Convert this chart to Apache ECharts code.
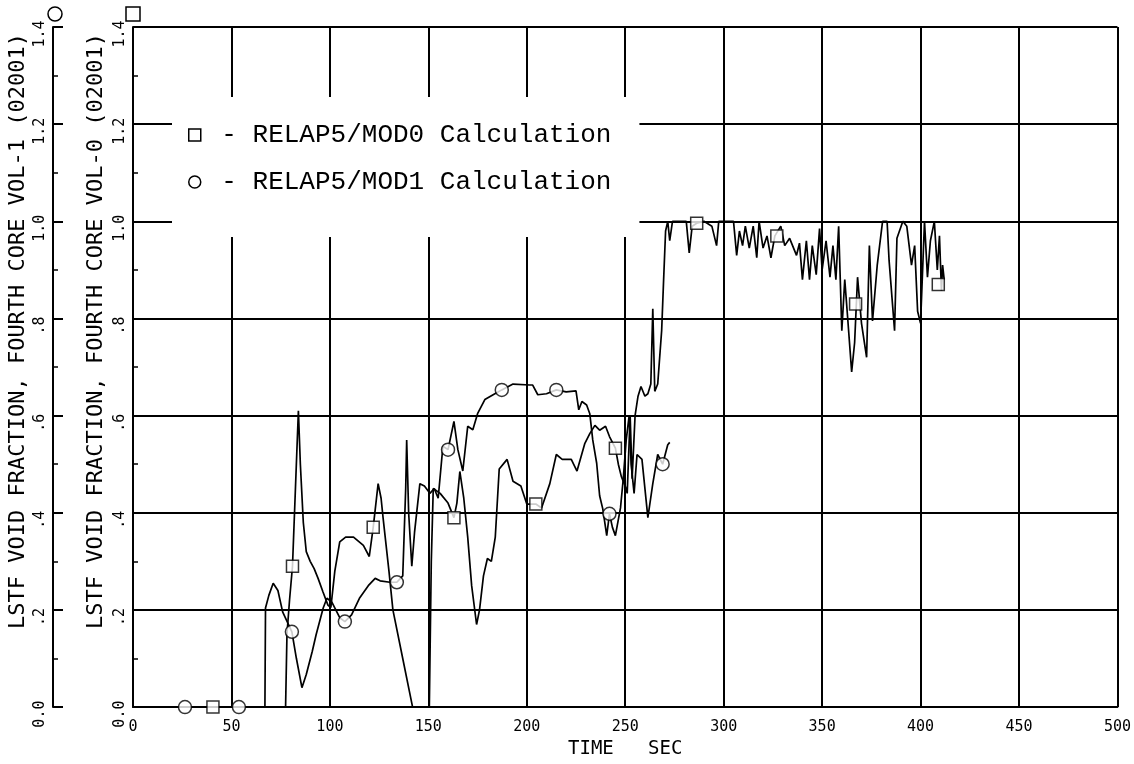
<!DOCTYPE html>
<html>
<head>
<meta charset="utf-8">
<script src="https://cdn.jsdelivr.net/npm/echarts@6/dist/echarts.min.js"></script>
<style>
html, body { margin: 0; padding: 0; background: #fff; }
#main { width: 1134px; height: 764px; }
</style>
</head>
<body>
<div id="main"></div>
<script>
// RELAP5/MOD0 (square, VOL-0)
var mod0Time = [0, 77.5, 78.2, 79.5, 81, 82.5, 84, 85, 86.5, 88, 90, 92, 94, 96.5, 99, 100.5,
  102.5, 105, 108, 112, 117, 120, 122, 124.5, 126, 127, 130, 132, 137, 142, 150.5, 151.5, 152.5,
  156, 160, 163, 164.5, 166, 168, 170, 172, 174.5, 176, 178, 180, 182, 184, 186, 190, 193, 197,
  200, 204.6, 207.5, 211.7, 215, 218, 222.6, 225.5, 229.5, 232, 234.6, 237, 240, 242, 245, 246.5,
  248, 250, 251, 252.5, 253.5, 255, 256.5, 258, 260, 261.5, 263, 264, 265, 266.5, 268.5, 269.5,
  270.5, 271.6, 272.6, 274, 281, 282.5, 284, 286.3, 290, 294, 296.4, 297.5, 305, 306.6, 308,
  309.6, 311, 313, 315, 316.8, 318, 320, 322, 324, 326, 329, 331, 333.5, 337, 338.5, 340, 342,
  343.6, 345, 347, 348.7, 350, 352, 354, 355.5, 357, 358.4, 360, 361.5, 363, 365, 366.5, 368,
  370, 372.6, 374, 375.6, 378, 380.7, 383, 384, 386.8, 388, 391, 393, 395.4, 397, 398.5, 400,
  402, 403.5, 405, 407, 408.5, 409.6, 410.6, 411.2, 412];
var mod0Void = [0, 0, 0.15, 0.22, 0.29, 0.45, 0.61, 0.5, 0.38, 0.32, 0.30, 0.285, 0.265, 0.237, 0.21, 0.205,
  0.28, 0.34, 0.35, 0.35, 0.333, 0.31, 0.37, 0.46, 0.43, 0.39, 0.28, 0.2, 0.1, 0, 0, 0.3, 0.45,
  0.44, 0.42, 0.39, 0.42, 0.485, 0.43, 0.35, 0.25, 0.17, 0.2, 0.27, 0.306, 0.30, 0.35, 0.49, 0.51, 0.465, 0.455,
  0.418, 0.418, 0.41, 0.46, 0.52, 0.51, 0.51, 0.486, 0.543, 0.563, 0.58, 0.57, 0.578, 0.557, 0.533, 0.50,
  0.475, 0.455, 0.44, 0.6, 0.47, 0.6, 0.64, 0.66, 0.64, 0.645, 0.665, 0.82, 0.65, 0.665, 0.775, 0.88,
  0.98, 1.0, 0.96, 1.0, 1.0, 0.935, 0.99, 0.996, 1.0, 0.99, 0.95, 1.0, 1.0, 0.93, 0.98,
  0.95, 0.99, 0.945, 0.99, 0.925, 1.0, 0.945, 0.97, 0.925, 0.97, 0.99, 0.95, 0.965, 0.93, 0.955, 0.88, 0.96,
  0.88, 0.95, 0.89, 0.985, 0.9, 0.96, 0.885, 0.95, 0.88, 0.99, 0.775, 0.88, 0.80, 0.69, 0.75, 0.885,
  0.79, 0.72, 0.95, 0.795, 0.91, 1.0, 1.0, 0.92, 0.775, 0.965, 1.0, 0.99, 0.91, 0.95, 0.815, 0.79,
  1.0, 0.885, 0.96, 1.0, 0.9, 0.97, 0.857, 0.91, 0.88];
var mod0MarkTime = [40.6, 81, 122, 163, 204.6, 245, 286.3, 327, 367, 409];
var mod0MarkVoid = [0, 0.29, 0.37, 0.39, 0.418, 0.533, 0.996, 0.97, 0.83, 0.87];

// RELAP5/MOD1 (circle, VOL-1)
var mod1Time = [0, 67, 67.3, 69, 71.2, 73.6, 76, 80.7, 83, 85.8, 88, 91, 93, 96.6, 98.5, 101, 105,
  107.6, 111, 115, 119.5, 123, 125.5, 130.5, 134, 137, 138.5, 139, 140, 141.6, 143, 145.7, 148,
  150.8, 153, 155, 157.4, 160, 163, 165, 167.5, 170, 172.6, 175, 178.7, 183.8, 187.3, 193, 201.5,
  203, 205.6, 210, 215, 220, 225, 226.4, 228, 230.4, 232, 233.5, 235.5, 237, 238.6, 240.6, 242,
  243.5, 245, 247.6, 249, 250.5, 252, 253, 254.5, 256, 258.5, 261.5, 264, 266.5, 269, 271.6, 272.6];
var mod1Void = [0, 0, 0.204, 0.23, 0.255, 0.24, 0.196, 0.155, 0.10, 0.04, 0.067, 0.114, 0.149, 0.204, 0.224, 0.216, 0.184,
  0.176, 0.19, 0.224, 0.25, 0.265, 0.26, 0.257, 0.257, 0.27, 0.45, 0.55, 0.40, 0.29, 0.36, 0.46, 0.455,
  0.44, 0.45, 0.43, 0.537, 0.53, 0.588, 0.53, 0.486, 0.578, 0.571, 0.604, 0.633, 0.645, 0.653, 0.665, 0.663,
  0.663, 0.643, 0.645, 0.653, 0.649, 0.651, 0.612, 0.629, 0.622, 0.604, 0.55, 0.502, 0.435, 0.408, 0.353, 0.398,
  0.37, 0.353, 0.41, 0.47, 0.55, 0.6, 0.5, 0.44, 0.52, 0.51, 0.39, 0.46, 0.52, 0.50, 0.54, 0.545];
var mod1MarkTime = [26.4, 53.8, 80.7, 107.6, 134, 160, 187.3, 215, 242, 269];
var mod1MarkVoid = [0, 0, 0.155, 0.176, 0.257, 0.53, 0.653, 0.653, 0.398, 0.50];

var names = ['RELAP5/MOD0 Calculation', 'RELAP5/MOD1 Calculation'];
var yTitles = ['LSTF VOID FRACTION, FOURTH CORE VOL-0 (02001)', 'LSTF VOID FRACTION, FOURTH CORE VOL-1 (02001)'];

function zip(a, b) { return a.map(function (x, i) { return [x, b[i]]; }); }
function fmt(v) {
  var s = v.toFixed(1);
  return (v > 0 && v < 1) ? s.slice(1) : s;
}

var chartDom = document.getElementById('main');
var myChart = echarts.init(chartDom);
var mono = 'DejaVu Sans Mono';
var ink = '#000';

function yAxisOf(offset, isInner) {
  return {
    type: 'value', position: 'left', offset: offset,
    min: 0, max: 1.4, interval: 0.2,
    axisLine: { show: true, lineStyle: { color: ink, width: 2 } },
    axisTick: { show: !isInner, inside: true, length: 10, lineStyle: { color: ink, width: 2 } },
    minorTick: { show: true, splitNumber: 2, length: 5, lineStyle: { color: ink, width: 1.5 } },
    axisLabel: {
      rotate: 90, margin: 5, color: ink, fontFamily: mono, fontSize: 15,
      padding: [0, 14, 0, 0], formatter: fmt
    },
    splitLine: { show: isInner, lineStyle: { color: ink, width: 2 } }
  };
}

var option = {
  animation: false,
  backgroundColor: '#fff',
  grid: { left: 133, right: 16, top: 27, bottom: 51 },
  legend: {
    orient: 'vertical', left: 172, top: 97,
    backgroundColor: '#fff',
    padding: [25, 28, 42, 16],
    itemGap: 21, itemWidth: 12, itemHeight: 12,
    selectedMode: false,
    formatter: ' - {name}',
    textStyle: { fontFamily: 'Liberation Mono', fontSize: 26, color: ink },
    data: [
      { name: names[0], icon: 'rect', itemStyle: { color: '#fff', borderColor: ink, borderWidth: 1.5 } },
      { name: names[1], icon: 'circle', itemStyle: { color: '#fff', borderColor: ink, borderWidth: 1.5 } }
    ]
  },
  xAxis: {
    type: 'value', min: 0, max: 500, interval: 50,
    name: 'TIME   SEC', nameLocation: 'middle', nameGap: 31,
    nameTextStyle: { fontFamily: mono, fontSize: 19, color: ink },
    axisLine: { lineStyle: { color: ink, width: 2 } },
    axisTick: { show: false },
    axisLabel: { margin: 13, color: ink, fontFamily: mono, fontSize: 15 },
    splitLine: { show: true, lineStyle: { color: ink, width: 2 } }
  },
  yAxis: [yAxisOf(0, true), yAxisOf(80, false)],
  graphic: [
    {
      type: 'text', x: 96, y: 331, rotation: Math.PI / 2,
      style: { text: yTitles[0], font: '22px "DejaVu Sans Mono"', fill: ink, align: 'center', verticalAlign: 'middle' }
    },
    {
      type: 'text', x: 18, y: 331, rotation: Math.PI / 2,
      style: { text: yTitles[1], font: '22px "DejaVu Sans Mono"', fill: ink, align: 'center', verticalAlign: 'middle' }
    },
    { type: 'rect', shape: { x: 126, y: 7, width: 14, height: 14 }, style: { fill: '#fff', stroke: ink, lineWidth: 1.5 } },
    { type: 'circle', shape: { cx: 55, cy: 14, r: 7 }, style: { fill: '#fff', stroke: ink, lineWidth: 1.5 } }
  ],
  series: [
    {
      name: names[0], type: 'line', yAxisIndex: 0, showSymbol: false,
      lineStyle: { color: ink, width: 1.7 }, itemStyle: { color: ink },
      data: zip(mod0Time, mod0Void)
    },
    {
      name: names[1], type: 'line', yAxisIndex: 1, showSymbol: false,
      lineStyle: { color: ink, width: 1.7 }, itemStyle: { color: ink },
      data: zip(mod1Time, mod1Void)
    },
    {
      name: names[0], type: 'scatter', yAxisIndex: 0, symbol: 'rect', symbolSize: 12,
      itemStyle: { color: '#fff', borderColor: ink, borderWidth: 1.5 }, z: 4,
      data: zip(mod0MarkTime, mod0MarkVoid)
    },
    {
      name: names[1], type: 'scatter', yAxisIndex: 1, symbol: 'circle', symbolSize: 13,
      itemStyle: { color: '#fff', borderColor: ink, borderWidth: 1.5 }, z: 4,
      data: zip(mod1MarkTime, mod1MarkVoid)
    }
  ]
};

option && myChart.setOption(option);

window.onresize = function () {
  myChart.resize();
};
</script>
</body>
</html>
